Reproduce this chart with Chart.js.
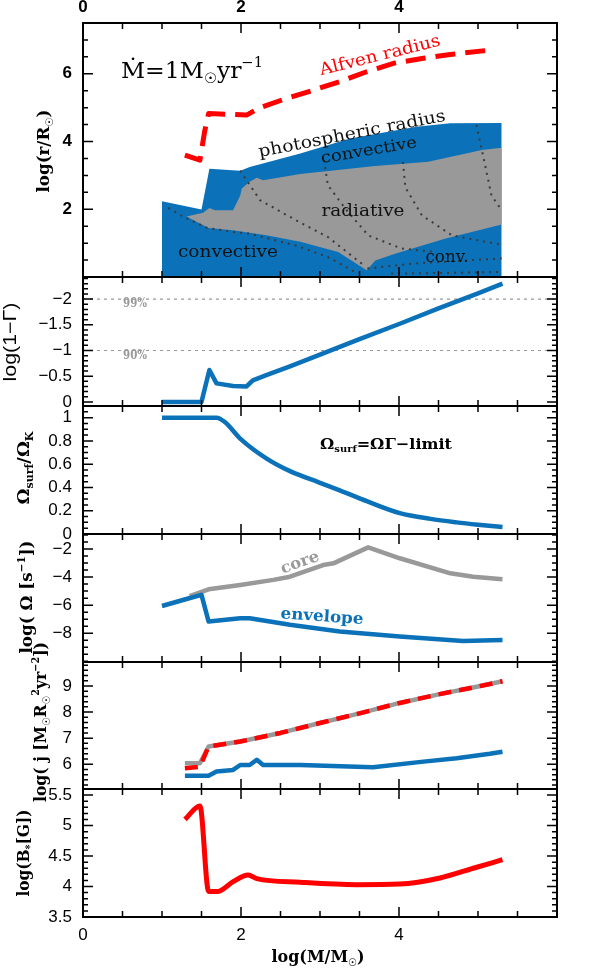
<!DOCTYPE html>
<html>
<head>
<meta charset="utf-8">
<script src="https://cdn.jsdelivr.net/npm/chart.js@4.4.1/dist/chart.umd.min.js"></script>
<style>
body { margin: 0; background: #fff; }
#wrap { position: relative; width: 596px; height: 972px; }
#wrap canvas { position: absolute; left: 0; top: 0; }
</style>
</head>
<body>
<div id="wrap">
<canvas id="c1" width="596" height="972"></canvas>
<canvas id="c2" width="596" height="972"></canvas>
<canvas id="c3" width="596" height="972"></canvas>
<canvas id="c4" width="596" height="972"></canvas>
<canvas id="c5" width="596" height="972"></canvas>
<canvas id="c6" width="596" height="972"></canvas>
</div>
<script>
// panel 1: structure, log(r/Rsun)
const photoX = [1.0, 1.5, 1.6, 1.99, 2.11, 2.75, 3.38, 4.22, 4.65, 5.3];
const photoY = [2.24, 1.99, 3.2, 3.14, 3.25, 3.65, 4.09, 4.44, 4.54, 4.55];
const radTopX = [1.31, 1.52, 1.6, 1.67, 1.9, 1.99, 2.01, 2.11, 2.2, 2.28, 2.75, 3.7, 4.37, 5.05, 5.3];
const radTopY = [1.79, 1.9, 2.04, 1.97, 1.97, 2.41, 2.61, 2.81, 2.93, 2.86, 3.04, 3.28, 3.4, 3.75, 3.82];
const radBotX = [1.31, 1.59, 1.9, 2.32, 2.75, 3.23, 3.59, 3.7, 3.95, 4.58, 5.3];
const radBotY = [1.79, 1.45, 1.38, 1.23, 1.04, 0.74, 0.2, 0.49, 0.69, 1.13, 1.55];
const alfX = [1.29, 1.48, 1.54, 1.59, 2.07, 2.24, 2.56, 2.92, 3.25, 3.59, 3.93, 4.31, 4.65, 5.15];
const alfY = [3.6, 3.45, 4.3, 4.83, 4.78, 5.0, 5.26, 5.52, 5.77, 6.06, 6.31, 6.46, 6.57, 6.7];
// dotted lines inside the star
const dotLines = [
    [[1.08, 2.04], [1.27, 1.78], [1.57, 1.45], [1.9, 1.33], [2.11, 1.28], [2.71, 0.92], [3.1, 0.59], [3.44, 0.15]],
    [[1.99, 3.14], [2.24, 2.27], [2.7, 1.67], [3.1, 1.18], [3.53, 0.39]],
    [[3.05, 3.45], [3.1, 2.71], [3.32, 2.02], [3.61, 1.23], [4.03, 0.84], [4.46, 0.74]],
    [[4.05, 3.4], [4.08, 2.65], [4.29, 1.82], [4.67, 1.23], [5.3, 0.95]],
    [[4.98, 4.49], [5.09, 3.3], [5.17, 2.41], [5.3, 1.97]],
    [[3.6, 0.25], [4.2, 0.4], [5.3, 0.55]],
    [[3.9, 0.1], [4.6, 0.12], [5.3, 0.15]]
];

// panel 2: log(1-Gamma)
const gamX = [1.0, 1.5, 1.6, 1.69, 1.9, 2.07, 2.15, 2.32, 2.62, 3.0, 3.5, 4.01, 4.5, 5.0, 5.31];
const gamY = [0, 0, -0.62, -0.36, -0.31, -0.3, -0.42, -0.52, -0.69, -0.92, -1.22, -1.52, -1.82, -2.11, -2.3];

// panel 3: Omega_surf / Omega_K
const omX = [1.0, 1.69, 1.8, 1.99, 2.32, 2.62, 3.0, 3.25, 3.6, 4.01, 4.4, 4.73, 5.0, 5.31];
const omY = [1.0, 1.0, 0.96, 0.82, 0.65, 0.54, 0.44, 0.375, 0.28, 0.18, 0.13, 0.1, 0.08, 0.06];

// panel 4: log(Omega)
const envX = [1.0, 1.31, 1.5, 1.59, 1.99, 2.11, 2.62, 3.25, 4.01, 4.81, 5.31];
const envY = [-6.06, -5.56, -5.27, -7.17, -6.93, -6.93, -7.4, -7.88, -8.24, -8.55, -8.48];
const coreX = [1.35, 1.59, 1.99, 2.41, 2.62, 3.04, 3.17, 3.61, 4.01, 4.65, 4.94, 5.31];
const coreY = [-5.35, -4.87, -4.56, -4.2, -3.97, -3.14, -3.02, -1.88, -2.66, -3.73, -3.97, -4.16];

// panel 5: log(j)
const jEnvX = [1.29, 1.59, 1.69, 1.9, 1.99, 2.11, 2.2, 2.28, 2.75, 3.67, 4.31, 4.73, 5.15, 5.31];
const jEnvY = [5.56, 5.56, 5.72, 5.78, 5.97, 5.97, 6.17, 5.97, 5.97, 5.88, 6.1, 6.23, 6.4, 6.48];
const jTotX = [1.29, 1.48, 1.59, 1.99, 2.5, 3.0, 3.5, 4.01, 4.5, 5.0, 5.31];
const jTotY = [6.04, 6.04, 6.68, 6.87, 7.2, 7.58, 7.95, 8.35, 8.68, 8.98, 9.18];
const jRedY = [5.85, 5.9, 6.68, 6.87, 7.2, 7.58, 7.95, 8.35, 8.68, 8.98, 9.18];

// panel 6: log(B*)
const bX = [1.29, 1.48, 1.59, 1.71, 1.9, 2.09, 2.2, 2.75, 3.46, 4.01, 4.52, 4.94, 5.31];
const bY = [5.1, 5.32, 3.92, 3.92, 4.08, 4.19, 4.13, 4.07, 4.03, 4.04, 4.14, 4.3, 4.44];

const BLUE = '#0b72b9', GREY = '#999999', RED = '#ff0000';
const SERIF = '"DejaVu Serif", "DejaVu Sans"';
const pts = (xs, ys) => xs.map((x, i) => ({ x, y: ys[i] }));

// text with sub/superscripts; '_' = subscript, '^' = superscript
function rich(ctx, parts, x, y, size, opt = {}) {
    ctx.save();
    ctx.translate(x, y);
    ctx.rotate((opt.angle || 0) * Math.PI / 180);
    ctx.fillStyle = opt.color || '#000';
    ctx.textBaseline = 'middle';
    ctx.textAlign = 'left';
    const fam = opt.family || SERIF, wt = opt.weight || 'normal';
    const segs = parts.map(p => {
        let t = p, s = size, dy = 0;
        if (p[0] === '_') { t = p.slice(1); s = size * 0.62; dy = size * 0.32; }
        else if (p[0] === '^') { t = p.slice(1); s = size * 0.62; dy = -size * 0.36; }
        ctx.font = `${wt} ${s}px ${fam}`;
        return { t, s, dy, w: ctx.measureText(t).width };
    });
    const total = segs.reduce((a, g) => a + g.w, 0);
    if (opt.width) ctx.scale(opt.width / total, 1);
    let cx = -total / 2;
    segs.forEach(g => {
        ctx.font = `${wt} ${g.s}px ${fam}`;
        ctx.fillText(g.t, cx, g.dy);
        cx += g.w;
    });
    ctx.restore();
}

function frame(chart, minor, major) {
    const { ctx, chartArea: a, scales: { x, y } } = chart;
    ctx.save();
    ctx.strokeStyle = '#000';
    ctx.lineWidth = 1.5;
    ctx.beginPath();
    for (let n = 0; n <= 12; n++) {
        const px = x.getPixelForValue(n * 0.5), len = n % 4 === 0 ? 10 : 6;
        ctx.moveTo(px, a.top); ctx.lineTo(px, a.top + len);
        ctx.moveTo(px, a.bottom); ctx.lineTo(px, a.bottom - len);
    }
    const lo = Math.min(y.min, y.max), hi = Math.max(y.min, y.max);
    for (let n = Math.ceil(lo / minor - 1e-6); n * minor <= hi + 1e-9; n++) {
        const v = n * minor, py = y.getPixelForValue(v);
        const len = major.some(m => Math.abs(m - v) < 1e-6) ? 10 : 5;
        ctx.moveTo(a.left, py); ctx.lineTo(a.left + len, py);
        ctx.moveTo(a.right, py); ctx.lineTo(a.right - len, py);
    }
    ctx.stroke();
    ctx.lineWidth = 2;
    ctx.strokeRect(a.left, a.top, a.right - a.left, a.bottom - a.top);
    ctx.restore();
}

const tickFont = (bold) => ({ family: 'Liberation Sans', size: 17, weight: bold ? 'bold' : 'normal' });

function panel(id, top, bottom, ycfg, datasets, notes, extraScales = {}, pad = {}) {
    new Chart(document.getElementById(id), {
        type: 'line',
        data: { datasets },
        options: {
            responsive: false,
            animation: false,
            layout: { padding: { top: pad.top ?? top, bottom: pad.bottom ?? (972 - bottom), left: 0, right: 39 } },
            elements: { point: { radius: 0 }, line: { tension: 0, borderJoinStyle: 'round' } },
            plugins: { legend: { display: false }, tooltip: { enabled: false } },
            scales: Object.assign({
                x: { type: 'linear', min: 0, max: 6, display: false },
                y: {
                    type: 'linear', min: ycfg.min, max: ycfg.max, reverse: !!ycfg.reverse,
                    afterFit: s => { s.width = 83; },
                    afterBuildTicks: s => { s.ticks = ycfg.labels.map(v => ({ value: v })); },
                    grid: { display: false, drawTicks: false },
                    border: { display: false },
                    ticks: { padding: 11, color: '#000', autoSkip: false, font: tickFont(ycfg.bold),
                             callback: v => String(v).replace('-', '\u2212') }
                }
            }, extraScales)
        },
        plugins: [{
            id: 'deco',
            afterDraw: c => { frame(c, ycfg.minor, ycfg.labels); notes(c.ctx); }
        }]
    });
}

const dotted = (d) => ({ data: d.map(p => ({ x: p[0], y: p[1] })), borderColor: '#3a3a3a', borderWidth: 2,
                         borderDash: [2, 5], fill: false });
const none = 'rgba(0,0,0,0)';

// panel 1
panel('c1', 23, 277, { min: 0, max: 7.5, labels: [2, 4, 6], minor: 0.5, bold: true }, [
    { data: pts(alfX, alfY), borderColor: RED, borderWidth: 5, borderDash: [20, 10], fill: false },
    ...dotLines.map(dotted),
    { data: pts(radTopX, radTopY), borderColor: none, borderWidth: 0, backgroundColor: GREY, fill: '+1' },
    { data: pts(radBotX, radBotY), borderColor: none, borderWidth: 0, fill: false },
    { data: pts(photoX, photoY), borderColor: none, borderWidth: 0, backgroundColor: BLUE, fill: 'origin' }
], ctx => {
    rich(ctx, ['\u1E40=1M', '_\u2609', 'yr', '^\u22121'], 192, 72, 23, { width: 142 });
    rich(ctx, ['Alfven radius'], 380, 56, 17, { angle: -14, color: RED, width: 124 });
    rich(ctx, ['photospheric radius'], 352, 134.5, 17, { angle: -11, color: '#111', width: 190 });
    rich(ctx, ['convective'], 369, 151, 16, { angle: -9.5, color: '#111', width: 97 });
    rich(ctx, ['radiative'], 363, 212, 16, { color: '#111', width: 83 });
    rich(ctx, ['convective'], 228, 253, 16, { color: '#111', width: 100 });
    rich(ctx, ['conv.'], 447, 258, 16, { color: '#111', width: 43 });
    rich(ctx, ['log(r/R', '_\u2609', ')'], 45, 151, 17, { angle: -90, weight: 'bold', width: 83 });
}, {
    x2: { type: 'linear', position: 'top', min: 0, max: 6,
          afterFit: s => { s.height = 23; },
          afterBuildTicks: s => { s.ticks = [0, 2, 4].map(v => ({ value: v })); },
          grid: { display: false, drawTicks: false }, border: { display: false },
          ticks: { padding: 5, color: '#000', autoSkip: false, maxRotation: 0, font: tickFont(true) } }
}, { top: 0 });

// panel 2
panel('c2', 277, 406, { min: -2.43, max: 0.08, reverse: true, labels: [0, -0.5, -1, -1.5, -2], minor: 0.1 }, [
    { data: pts(gamX, gamY), borderColor: BLUE, borderWidth: 4.5, fill: false },
    { data: pts([0, 6], [-2, -2]), borderColor: GREY, borderWidth: 1.2, borderDash: [3, 4], fill: false },
    { data: pts([0, 6], [-1, -1]), borderColor: GREY, borderWidth: 1.2, borderDash: [3, 4], fill: false }
], ctx => {
    rich(ctx, ['99%'], 135, 304, 12, { color: GREY, weight: 'bold', width: 24 });
    rich(ctx, ['90%'], 135, 356, 12, { color: GREY, weight: 'bold', width: 24 });
    rich(ctx, ['log(1\u2212\u0393)'], 11, 342, 18, { angle: -90, family: '"Liberation Sans"', width: 79 });
});

// panel 3
panel('c3', 406, 534, { min: 0, max: 1.1, labels: [0, 0.2, 0.4, 0.6, 0.8, 1], minor: 0.05 }, [
    { data: pts(omX, omY), borderColor: BLUE, borderWidth: 4.5, fill: false, cubicInterpolationMode: 'monotone' }
], ctx => {
    rich(ctx, ['\u03A9', '_surf', '=\u03A9\u0393\u2212limit'], 386, 445, 15, { weight: 'bold', width: 132 });
    rich(ctx, ['\u03A9', '_surf', '/\u03A9', '_K'], 25, 468, 17, { angle: -90, weight: 'bold', width: 73 });
});

// panel 4
panel('c4', 534, 662, { min: -10.05, max: -0.93, labels: [-8, -6, -4, -2], minor: 0.5 }, [
    { data: pts(envX, envY), borderColor: BLUE, borderWidth: 4.5, fill: false },
    { data: pts(coreX, coreY), borderColor: GREY, borderWidth: 4.5, fill: false }
], ctx => {
    rich(ctx, ['core'], 300, 563, 16, { angle: -20, color: GREY, weight: 'bold', width: 40 });
    rich(ctx, ['envelope'], 322, 617, 16, { angle: 4, color: BLUE, weight: 'bold', width: 83 });
    rich(ctx, ['log( \u03A9 [s', '^\u22121', '])'], 28, 597, 17, { angle: -90, weight: 'bold', width: 113 });
});

// panel 5
panel('c5', 662, 789, { min: 5.05, max: 9.92, labels: [6, 7, 8, 9], minor: 0.2 }, [
    { data: pts(jTotX, jRedY), borderColor: RED, borderWidth: 4.5, borderDash: [13, 8], fill: false },
    { data: pts(jTotX, jTotY), borderColor: GREY, borderWidth: 4.5, fill: false },
    { data: pts(jEnvX, jEnvY), borderColor: BLUE, borderWidth: 4.5, fill: false }
], ctx => {
    rich(ctx, ['log( j [M', '_\u2609', 'R', '_\u2609', '^2', 'yr', '^\u22122', '])'], 42, 722, 17,
         { angle: -90, weight: 'bold', width: 160 });
});

// panel 6
panel('c6', 789, 917, { min: 3.5, max: 5.6, labels: [3.5, 4, 4.5, 5, 5.5], minor: 0.1 }, [
    { data: pts(bX, bY), borderColor: RED, borderWidth: 5, fill: false, cubicInterpolationMode: 'monotone' }
], ctx => {
    rich(ctx, ['log(B', '_*', '[G])'], 25, 853, 17, { angle: -90, weight: 'bold', width: 87 });
    rich(ctx, ['log(M/M', '_\u2609', ')'], 318, 958, 17, { weight: 'bold', width: 93 });
}, {
    x: { type: 'linear', position: 'bottom', min: 0, max: 6,
         afterFit: s => { s.height = 55; },
         afterBuildTicks: s => { s.ticks = [0, 2, 4].map(v => ({ value: v })); },
         grid: { display: false, drawTicks: false }, border: { display: false },
         ticks: { padding: 8, color: '#000', autoSkip: false, maxRotation: 0, font: tickFont(false) } }
}, { bottom: 0 });
</script>
</body>
</html>
